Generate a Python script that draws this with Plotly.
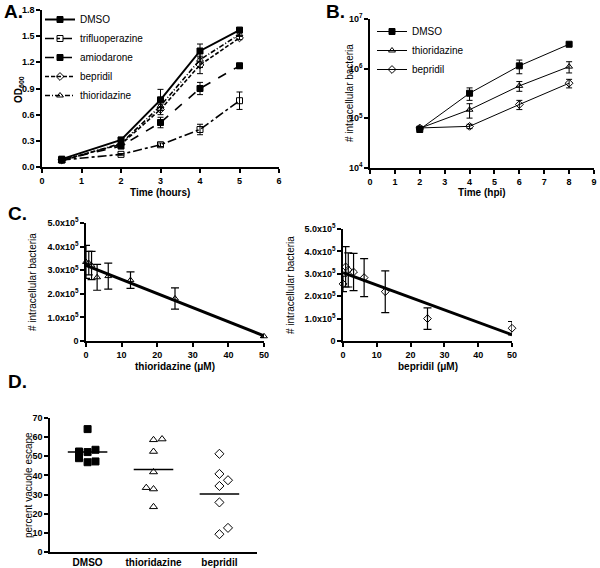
import numpy as np
import plotly.graph_objects as go

FONT = "Arial, Liberation Sans, sans-serif"

# ---------------- Panel A data ----------------
a_time = [0.5, 2, 3, 4, 5]
a_dmso = [0.09, 0.31, 0.77, 1.33, 1.57]
a_dmso_err = [0.02, 0.03, 0.12, 0.08, 0.02]
a_trif = [0.08, 0.145, 0.255, 0.43, 0.76]
a_trif_err = [0.01, 0.01, 0.02, 0.06, 0.10]
a_amio = [0.08, 0.24, 0.51, 0.90, 1.16]
a_amio_err = [0.01, 0.02, 0.06, 0.07, 0.03]
a_bepr = [0.08, 0.26, 0.66, 1.17, 1.48]
a_bepr_err = [0.01, 0.02, 0.06, 0.10, 0.02]
a_thio = [0.07, 0.27, 0.70, 1.23, 1.52]
a_thio_err = [0.01, 0.02, 0.05, 0.09, 0.02]

# ---------------- Panel B data ----------------
b_time = [2, 4, 6, 8]
b_dmso = [6.0e4, 3.2e5, 1.14e6, 3.1e6]
b_dmso_err = [0.8e4, 0.9e5, 0.35e6, 0.2e6]
b_thio = [6.3e4, 1.49e5, 4.5e5, 1.1e6]
b_thio_err = [0.6e4, 0.48e5, 1.0e5, 0.28e6]
b_bepr = [6.4e4, 6.9e4, 1.9e5, 5.1e5]
b_bepr_err = [0.5e4, 0.7e4, 0.4e5, 1.0e5]
b_ticks = [1e4, 1e5, 1e6, 1e7]
b_ticktext = ["10<sup>4</sup>", "10<sup>5</sup>", "10<sup>6</sup>", "10<sup>7</sup>"]

# ---------------- Panel C data ----------------
c_conc = [0, 0.78, 1.56, 3.125, 6.25, 12.5, 25, 50]
c_thio = [3.35e5, 3.3e5, 3.2e5, 2.7e5, 2.75e5, 2.58e5, 1.8e5, 0.2e5]
c_thio_err = [0.7e5, 0.5e5, 0.6e5, 0.55e5, 0.55e5, 0.35e5, 0.45e5, 0.05e5]
c_thio_fit = [3.2e5, 0.22e5]
c_bepr = [2.55e5, 3.31e5, 3.17e5, 3.08e5, 2.83e5, 2.2e5, 1.0e5, 0.57e5]
c_bepr_err = [0.35e5, 0.9e5, 0.76e5, 0.83e5, 0.85e5, 0.93e5, 0.48e5, 0.3e5]
c_bepr_fit = [3.05e5, 0.28e5]
c_fit_x = [0, 50]
c_yticks = [0, 1e5, 2e5, 3e5, 4e5, 5e5]
c_yticktext = ["0", "1.0x10<sup>5</sup>", "2.0x10<sup>5</sup>", "3.0x10<sup>5</sup>",
               "4.0x10<sup>5</sup>", "5.0x10<sup>5</sup>"]

# ---------------- Panel D data ----------------
d_cats = ["DMSO", "thioridazine", "bepridil"]
d_dmso = [64.2, 52.5, 52.2, 53.4, 49.0, 46.9, 47.3]
d_thio = [58.6, 59.0, 52.5, 41.8, 33.6, 32.9, 23.6]
d_bepr = [51.3, 40.8, 37.5, 34.5, 25.9, 12.6, 9.3]
d_dmso_jit = [0, -0.13, 0, 0.12, -0.13, 0, 0.12]
d_thio_jit = [0, 0.13, 0, 0, -0.11, 0, 0]
d_bepr_jit = [0, 0, 0.13, 0, 0, 0.13, 0]

fig = go.Figure()

W, H = 600, 568

def px_dom(a, b):
    return [a / W, b / W]

def py_dom(top, bottom):
    return [1 - bottom / H, 1 - top / H]

tickfont = dict(family=FONT, size=9, color="black", weight="bold")
axis_common = dict(showline=True, linecolor="black", linewidth=1.5, ticks="outside",
                   ticklen=4, tickwidth=1.5, tickcolor="black", showgrid=False,
                   zeroline=False, tickfont=tickfont, automargin=False)

err_style = dict(type="data", color="black", thickness=1, width=3)

# ---- Panel A ----
a_series = [
    ("DMSO", a_dmso, a_dmso_err, "solid", "square", "black"),
    ("trifluoperazine", a_trif, a_trif_err, "dashdot", "square-open", "black"),
    ("amiodarone", a_amio, a_amio_err, "dash", "square", "black"),
    ("bepridil", a_bepr, a_bepr_err, "4px,2px", "diamond-open", "black"),
    ("thioridazine", a_thio, a_thio_err, "5px,2px,1px,2px", "triangle-up-open", "black"),
]
for name, ys, es, dash, sym, col in a_series:
    fig.add_trace(go.Scatter(
        x=a_time, y=ys, name=name, mode="lines+markers",
        line=dict(color="black", width=1.6 if dash != "solid" else 2, dash=dash),
        marker=dict(symbol=sym, size=6, color=col, line=dict(color="black", width=1)),
        error_y=dict(array=es, **err_style), cliponaxis=False,
        xaxis="x", yaxis="y", legend="legend"))

# ---- Panel B ----
b_series = [
    ("DMSO", b_dmso, b_dmso_err, "square"),
    ("thioridazine", b_thio, b_thio_err, "triangle-up-open"),
    ("bepridil", b_bepr, b_bepr_err, "diamond-open"),
]
for name, ys, es, sym in b_series:
    fig.add_trace(go.Scatter(
        x=b_time, y=ys, name=name, mode="lines+markers",
        line=dict(color="black", width=1),
        marker=dict(symbol=sym, size=6, color="black", line=dict(color="black", width=1)),
        error_y=dict(array=es, **err_style), cliponaxis=False,
        xaxis="x2", yaxis="y2", legend="legend2"))

# ---- Panel C ----
for ys, es, fit, sym, xa, ya in [
        (c_thio, c_thio_err, c_thio_fit, "triangle-up-open", "x3", "y3"),
        (c_bepr, c_bepr_err, c_bepr_fit, "diamond-open", "x4", "y4")]:
    fig.add_trace(go.Scatter(
        x=c_conc, y=ys, mode="markers", showlegend=False,
        marker=dict(symbol=sym, size=6, color="black", line=dict(color="black", width=1)),
        error_y=dict(array=es, color="black", thickness=1.2, width=4),
        cliponaxis=False, xaxis=xa, yaxis=ya))
    fig.add_trace(go.Scatter(
        x=c_fit_x, y=fit, mode="lines", showlegend=False,
        line=dict(color="black", width=3), cliponaxis=False, xaxis=xa, yaxis=ya))

# ---- Panel D ----
for i, (vals, jit, sym) in enumerate([(d_dmso, d_dmso_jit, "square"),
                                      (d_thio, d_thio_jit, "triangle-up-open"),
                                      (d_bepr, d_bepr_jit, "diamond-open")]):
    fig.add_trace(go.Scatter(
        x=[i + j for j in jit], y=vals, mode="markers", showlegend=False,
        marker=dict(symbol=sym, size=7, color="black", line=dict(color="black", width=1)),
        cliponaxis=False, xaxis="x5", yaxis="y5"))
    m = float(np.mean(vals))
    fig.add_trace(go.Scatter(
        x=[i - 0.3, i + 0.3], y=[m, m], mode="lines", showlegend=False,
        line=dict(color="black", width=1.5), xaxis="x5", yaxis="y5"))

fig.update_layout(
    width=W, height=H, margin=dict(l=0, r=0, t=0, b=0),
    paper_bgcolor="white", plot_bgcolor="white",
    font=dict(family=FONT, color="black"),
    xaxis=dict(domain=px_dom(42, 279), range=[0, 6], dtick=1, anchor="y", **axis_common),
    yaxis=dict(domain=py_dom(10, 167), range=[0, 1.8], dtick=0.3, tickformat=".1f",
               anchor="x", **axis_common),
    xaxis2=dict(domain=px_dom(370, 594), range=[0, 9], dtick=1, anchor="y2", **axis_common),
    yaxis2=dict(domain=py_dom(19, 168), type="log", range=[4, 7], tickvals=b_ticks,
                ticktext=b_ticktext, anchor="x2", **axis_common),
    xaxis3=dict(domain=px_dom(86, 264), range=[0, 50], dtick=10, anchor="y3", **axis_common),
    yaxis3=dict(domain=py_dom(223, 341), range=[0, 5e5], tickvals=c_yticks,
                ticktext=c_yticktext, anchor="x3", **axis_common),
    xaxis4=dict(domain=px_dom(343, 512), range=[0, 50], dtick=10, anchor="y4", **axis_common),
    yaxis4=dict(domain=py_dom(229, 341), range=[0, 5e5], tickvals=c_yticks,
                ticktext=c_yticktext, anchor="x4", **axis_common),
    xaxis5=dict(domain=px_dom(50, 257), range=[-0.57, 2.57], tickvals=[0, 1, 2],
                ticktext=d_cats, anchor="y5",
                **{**axis_common, "ticks": "",
                   "tickfont": dict(family=FONT, size=10, color="black", weight="bold")}),
    yaxis5=dict(domain=py_dom(418, 552), range=[0, 70], dtick=10, anchor="x5", **axis_common),
    legend=dict(x=40 / W, y=1 - 5 / H, xanchor="left", yanchor="top",
                font=dict(family=FONT, size=10, color="black"), bgcolor="rgba(0,0,0,0)",
                itemwidth=30, tracegroupgap=0),
    legend2=dict(x=372 / W, y=1 - 17 / H, xanchor="left", yanchor="top",
                 font=dict(family=FONT, size=10, color="black"), bgcolor="rgba(0,0,0,0)",
                 itemwidth=30),
)

def ann(text, x, y, size=10, bold=True, angle=0, xanchor="center", yanchor="middle"):
    fig.add_annotation(text=text, x=x / W, y=1 - y / H, xref="paper", yref="paper",
                       showarrow=False, textangle=angle, xanchor=xanchor, yanchor=yanchor,
                       font=dict(family=FONT, size=size, color="black",
                                 weight="bold" if bold else "normal"))

# panel labels
ann("A.", 2, 12, size=19, xanchor="left")
ann("B.", 324, 12, size=19, xanchor="left")
ann("C.", 6, 213, size=19, xanchor="left")
ann("D.", 6, 381, size=19, xanchor="left")

# axis titles
ann("Time (hours)", 160, 192, size=10)
ann("OD<sub>600</sub>", 19, 90, size=10, angle=-90)
ann("Time (hpi)", 482, 192, size=10)
ann("# intracellular bacteria", 349, 93, size=10, bold=False, angle=-90)
ann("# intracellular bacteria", 32, 282, size=10, bold=False, angle=-90)
ann("thioridazine (\u03bcM)", 175, 366, size=10)
ann("# intracellular bacteria", 290, 285, size=10, bold=False, angle=-90)
ann("bepridil (\u03bcM)", 428, 366, size=10)
ann("percent vacuole escape", 28, 485, size=10, bold=False, angle=-90)

fig.write_html(
    "out.html",
    config={"displayModeBar": False},
    post_script="document.body.style.margin='0';document.body.style.padding='0';"
                "document.body.style.overflow='hidden';",
)
